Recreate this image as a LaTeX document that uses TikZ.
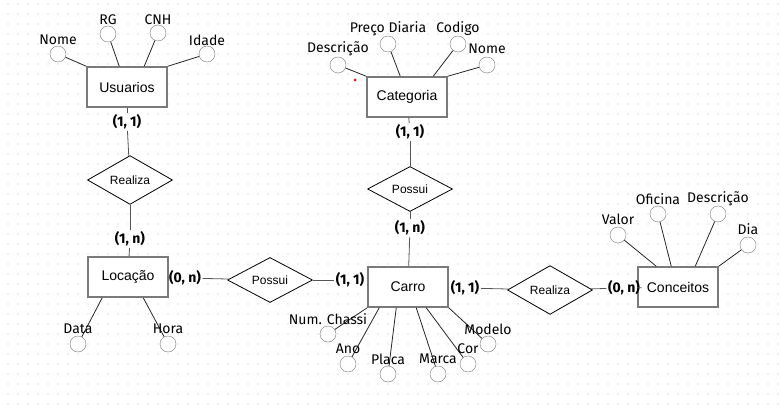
\documentclass[tikz,border=0pt]{standalone}
\usepackage{fontspec}
\setmainfont{Liberation Sans}
\newfontfamily\attrfont{Fira Sans}
\usetikzlibrary{shapes.geometric,calc}
\definecolor{boxgray}{HTML}{7A7A7A}
\definecolor{linegray}{HTML}{555555}
\tikzset{
    entity/.style={draw=boxgray, line width=1.5pt, fill=white, minimum width=80pt,
      minimum height=40pt, inner sep=0pt, font=\fontsize{14}{16}\selectfont},
    relation/.style={diamond, draw=black, thick, fill=white, minimum width=85pt,
      minimum height=45pt, inner sep=0pt, font=\fontsize{12}{14}\selectfont},
    attr/.style={circle, draw=boxgray, fill=white, minimum size=16pt, inner sep=0pt},
    attrlabel/.style={inner sep=0pt, font=\attrfont\fontsize{14}{16}\selectfont},
    card/.style={inner sep=1.5pt, font=\attrfont\bfseries\fontsize{14}{16}\selectfont},
    link/.style={draw=linegray, thick},
    prop/.style={draw=black!85, thick}}

\begin{document}
\begin{tikzpicture}[x=1pt, y=-1pt]
    \useasboundingbox (0,0) rectangle (781,414);
    % grid
    \foreach \gx in {8,18,...,778} {
      \foreach \gy in {4,14,...,410} {
        \fill[gray!55] (\gx,\gy) circle (0.55pt);
      }
    }

    % entities
    \node[entity] (usu) at (127,87) {Usuarios};
    \node[entity] (cat) at (407,97) {Categoria};
    \node[entity] (loc) at (128,277) {Locação};
    \node[entity] (carro) at (408,287) {Carro};
    \node[entity] (conc) at (678,287) {Conceitos};

    % relations
    \node[relation] (realizaA) at (130,180) {Realiza};
    \node[relation] (possuiA) at (270,280) {Possui};
    \node[relation] (possuiB) at (410,189) {Possui};
    \node[relation] (realizaB) at (550,290) {Realiza};

    % cardinalities
    \node[card] (cUsu) at (127,122) {(1, 1)};
    \node[card] (cLocTop) at (130,239) {(1, n)};
    \node[card] (cLocRight) at (185,278) {(0, n)};
    \node[card] (cCarroLeft) at (350,280) {(1, 1)};
    \node[card] (cCat) at (410,132) {(1, 1)};
    \node[card] (cCarroTop) at (410,228) {(1, n)};
    \node[card] (cCarroRight) at (465,288) {(1, 1)};
    \node[card] (cConc) at (624,288) {(0, n)};

    \draw[link] (usu) -- (cUsu);
    \draw[link] (cUsu) -- (realizaA);
    \draw[link] (realizaA) -- (cLocTop);
    \draw[link] (cLocTop) -- (loc);
    \draw[link] (loc) -- (cLocRight);
    \draw[link] (cLocRight) -- (possuiA);
    \draw[link] (possuiA) -- (cCarroLeft);
    \draw[link] (cat) -- (cCat);
    \draw[link] (cCat) -- (possuiB);
    \draw[link] (possuiB) -- (cCarroTop);
    \draw[link] (cCarroTop) -- (carro);
    \draw[link] (carro) -- (cCarroRight);
    \draw[link] (cCarroRight) -- (realizaB);
    \draw[link] (realizaB) -- (cConc);
    \draw[link] (cConc) -- (conc);

    % attributes of Usuarios
    \node[attr] (uNome) at (58,54) {};
    \node[attr] (uRg) at (108,34) {};
    \node[attr] (uCnh) at (158,33) {};
    \node[attr] (uIdade) at (207,54) {};
    \draw[prop] (usu.north west) -- (uNome);
    \draw[prop] ($(usu.north west)+(33,0)$) -- (uRg);
    \draw[prop] ($(usu.north west)+(58,0)$) -- (uCnh);
    \draw[prop] (usu.north east) -- (uIdade);
    \node[attrlabel] (uNomeT) at (58,40) {Nome};
    \node[attrlabel] (uRgT) at (108,20) {RG};
    \node[attrlabel] (uCnhT) at (158,20) {CNH};
    \node[attrlabel] (uIdadeT) at (207,40) {Idade};

    % attributes of Categoria
    \node[attr] (cDesc) at (338,65) {};
    \node[attr] (cPreco) at (388,44) {};
    \node[attr] (cCod) at (458,44) {};
    \node[attr] (cNome) at (487,65) {};
    \draw[prop] (cat.north west) -- (cDesc);
    \draw[prop] ($(cat.north west)+(34,0)$) -- (cPreco);
    \draw[prop] ($(cat.north west)+(67,0)$) -- (cCod);
    \draw[prop] (cat.north east) -- (cNome);
    \node[attrlabel] (cDescT) at (338,49) {Descrição};
    \node[attrlabel] (cPrecoT) at (388,29) {Preço Diaria};
    \node[attrlabel] (cCodT) at (458,29) {Codigo};
    \node[attrlabel] (cNomeT) at (487,49) {Nome};
    \fill[red] (355,80) circle (1.5pt);

    % attributes of Conceitos
    \node[attr] (kValor) at (618,235) {};
    \node[attr] (kOficina) at (658,214) {};
    \node[attr] (kDesc) at (718,214) {};
    \node[attr] (kDia) at (748,245) {};
    \draw[prop] ($(conc.north west)+(19,0)$) -- (kValor);
    \draw[prop] ($(conc.north west)+(34,0)$) -- (kOficina);
    \draw[prop] ($(conc.north west)+(58,0)$) -- (kDesc);
    \draw[prop] (conc.north east) -- (kDia);
    \node[attrlabel] (kValorT) at (618,219) {Valor};
    \node[attrlabel] (kOficinaT) at (658,199) {Oficina};
    \node[attrlabel] (kDescT) at (718,199) {Descrição};
    \node[attrlabel] (kDiaT) at (748,229) {Dia};

    % attributes of Carro
    \node[attr] (rChassi) at (328,334) {};
    \node[attr] (rAno) at (348,364) {};
    \node[attr] (rPlaca) at (388,374) {};
    \node[attr] (rMarca) at (438,374) {};
    \node[attr] (rCor) at (468,364) {};
    \node[attr] (rModelo) at (488,344) {};
    \draw[prop] (carro.south west) -- (rChassi);
    \draw[prop] ($(carro.south west)+(12,0)$) -- (rAno);
    \draw[prop] ($(carro.south west)+(29,0)$) -- (rPlaca);
    \draw[prop] ($(carro.south west)+(49,0)$) -- (rMarca);
    \draw[prop] ($(carro.south west)+(59,0)$) -- (rCor);
    \draw[prop] (carro.south east) -- (rModelo);
    \node[attrlabel] (rChassiT) at (328,319) {Num. Chassi};
    \node[attrlabel] (rAnoT) at (348,349) {Ano};
    \node[attrlabel] (rPlacaT) at (388,359) {Placa};
    \node[attrlabel] (rMarcaT) at (438,359) {Marca};
    \node[attrlabel] (rCorT) at (468,349) {Cor};
    \node[attrlabel] (rModeloT) at (488,329) {Modelo};

    % attributes of Locacao
    \node[attr] (lData) at (78,344) {};
    \node[attr] (lHora) at (168,344) {};
    \draw[prop] ($(loc.south west)+(15,0)$) -- (lData);
    \draw[prop] ($(loc.south west)+(56,0)$) -- (lHora);
    \node[attrlabel] (lDataT) at (78,329) {Data};
    \node[attrlabel] (lHoraT) at (168,329) {Hora};
\end{tikzpicture}
\end{document}
